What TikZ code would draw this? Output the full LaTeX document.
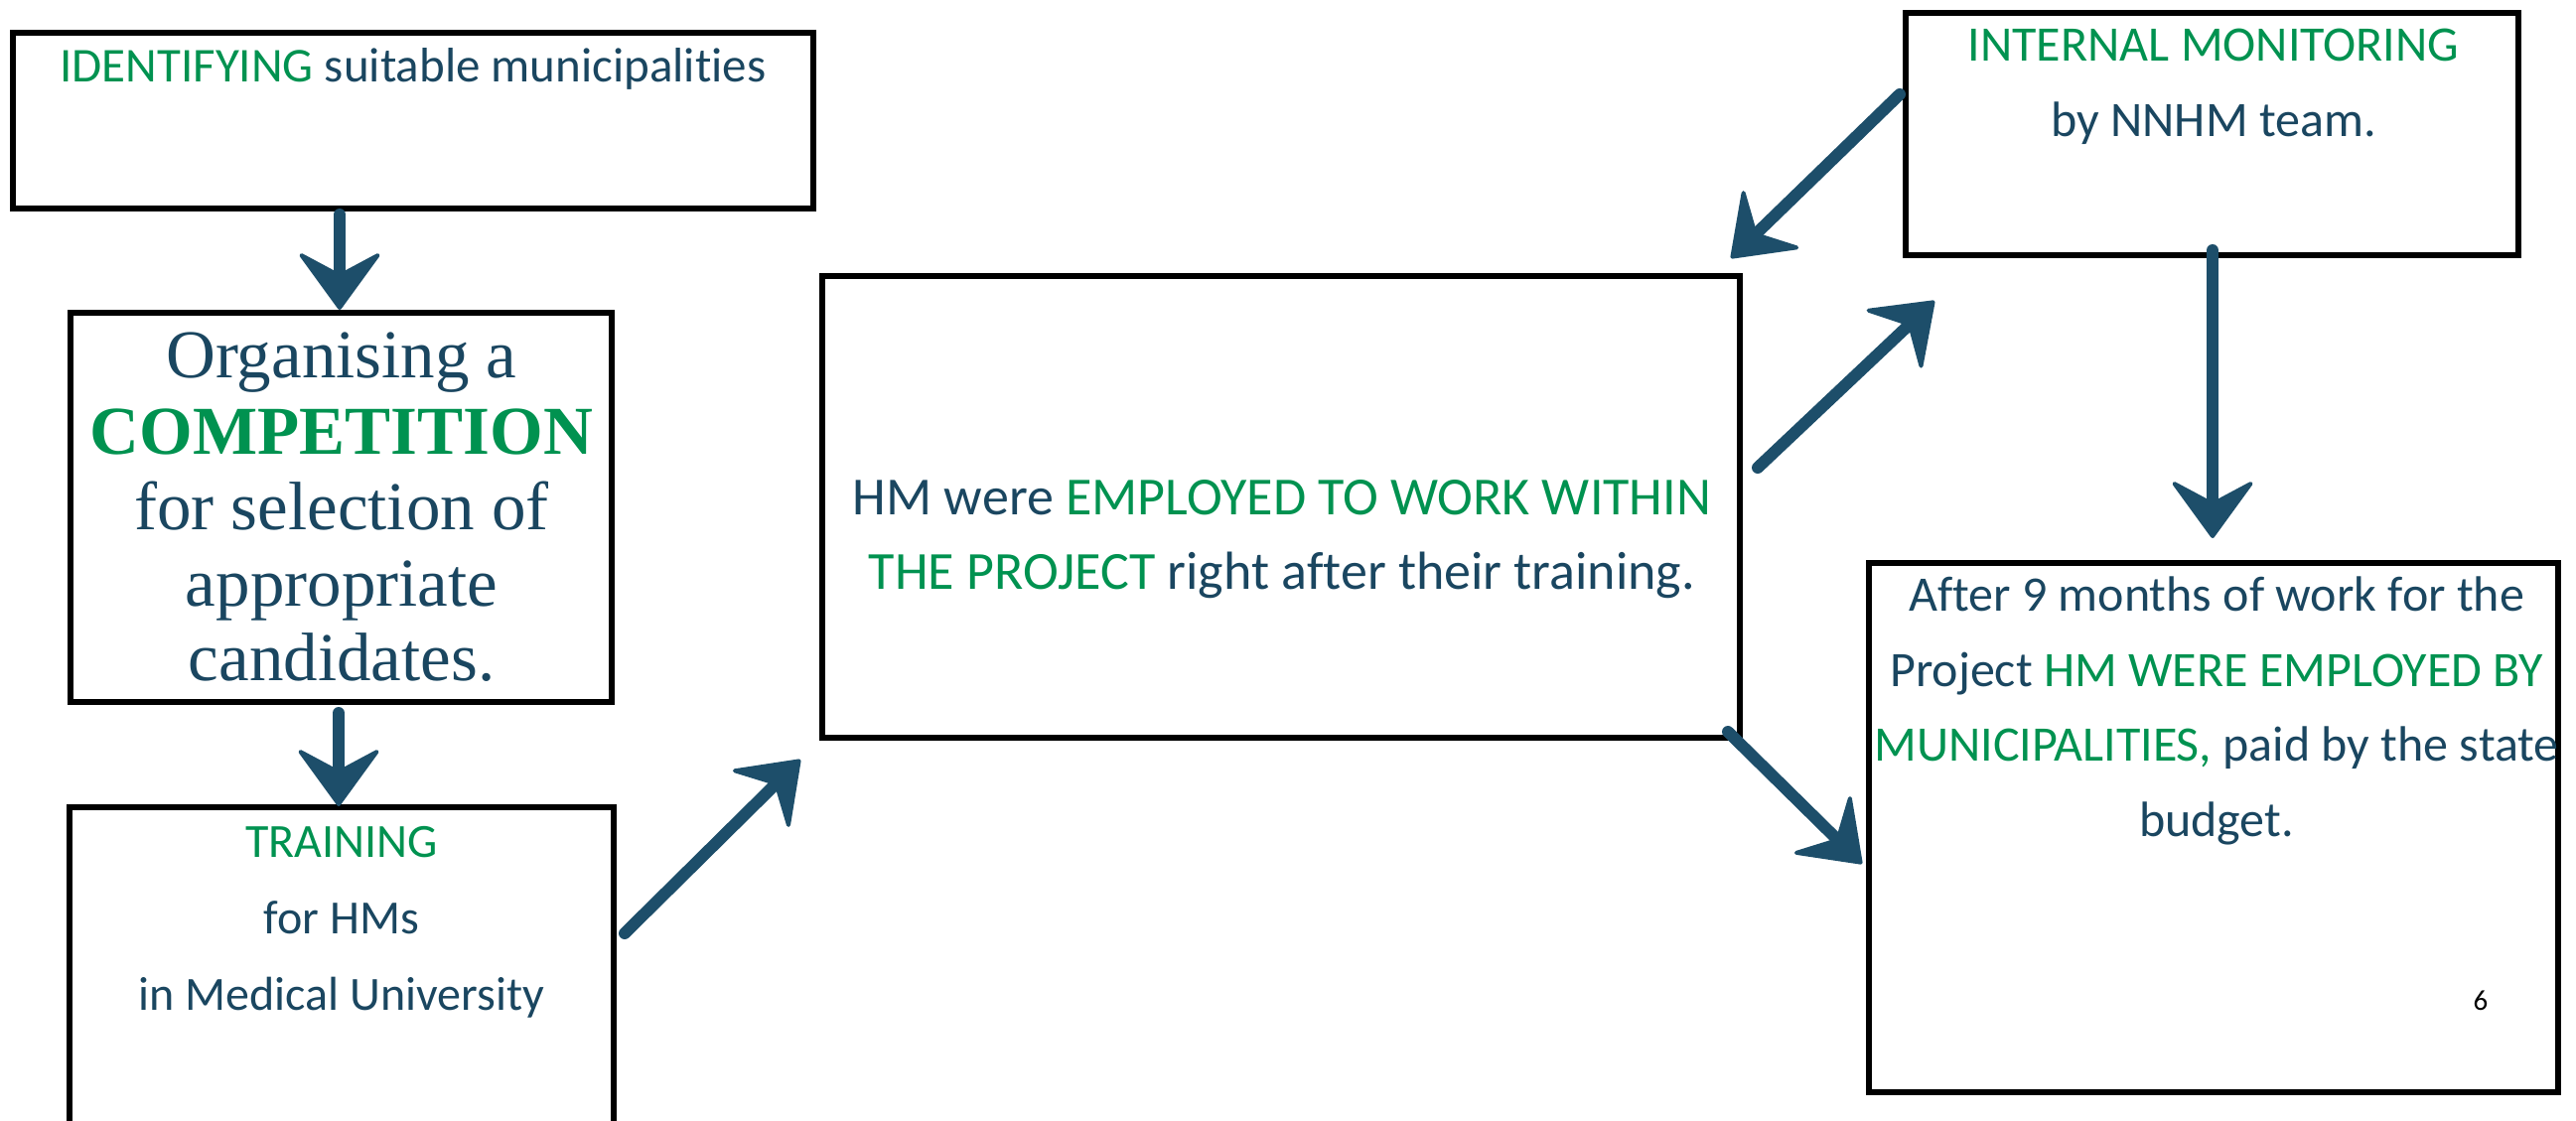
\documentclass[tikz,border=0pt]{standalone}
\usepackage{fontspec}
\setmainfont[Ligatures=NoCommon]{Carlito}
\newfontfamily\serifface{Liberation Serif}
\usetikzlibrary{arrows.meta}
\definecolor{hgreen}{RGB}{0,146,80}
\definecolor{hnavy}{RGB}{26,70,96}
\definecolor{harrow}{RGB}{29,78,106}
\tikzset{
  boxshape/.style={draw=black, line width=6pt, fill=none},
  txt/.style={anchor=base, inner sep=0pt, text=hnavy},
  bigarrow/.style={draw=harrow, line width=12pt, line cap=round,
    -{Stealth[length=62pt, width=90pt, inset=24pt, line width=4pt, round]}},
}
\begin{document}
\begin{tikzpicture}[x=1pt, y=-1pt]
\useasboundingbox (0,0) rectangle (2594,1129);
\clip (0,0) rectangle (2594,1129);
% boxes
\draw[boxshape] (13,33) rectangle (819,210);
\node[inner sep=0pt, minimum width=806pt, minimum height=177pt] (b1) at (416,121.5) {};
\draw[boxshape] (71,315) rectangle (616,707);
\node[inner sep=0pt, minimum width=545pt, minimum height=392pt] (b2) at (343.5,511) {};
\draw[boxshape] (70,813) rectangle (618,1170);
\node[inner sep=0pt, minimum width=548pt, minimum height=357pt] (b3) at (344,991.5) {};
\draw[boxshape] (828,278) rectangle (1752,743);
\node[inner sep=0pt, minimum width=924pt, minimum height=465pt] (b4) at (1290,510.5) {};
\draw[boxshape] (1919,13) rectangle (2536,257);
\node[inner sep=0pt, minimum width=617pt, minimum height=244pt] (b5) at (2227.5,135) {};
\draw[boxshape] (1882,567) rectangle (2576,1100);
\node[inner sep=0pt, minimum width=694pt, minimum height=533pt] (b6) at (2229,833.5) {};
% texts
\node[txt, font=\fontsize{49}{58}\selectfont] (t1) at (416,83) {\textcolor{hgreen}{IDENTIFYING} suitable municipalities};
\begin{scope}[every node/.append style={font=\serifface\fontsize{69}{76}\selectfont}]
\node[txt] (t2a) at (344,380) {Organising a};
\node[txt] (t2b) at (344,457) {\textcolor{hgreen}{\bfseries COMPETITION}};
\node[txt] (t2c) at (344,533) {for selection of};
\node[txt] (t2d) at (344,610) {appropriate};
\node[txt] (t2e) at (344,685) {candidates.};
\end{scope}
\begin{scope}[every node/.append style={font=\fontsize{48}{58}\selectfont}]
\node[txt] (t3a) at (344,863) {\textcolor{hgreen}{TRAINING}};
\node[txt] (t3b) at (344,940) {for HMs};
\node[txt] (t3c) at (344,1017) {in Medical University};
\end{scope}
\begin{scope}[every node/.append style={font=\fontsize{54}{62}\selectfont}]
\node[txt] (t4a) at (1291,518) {HM were \textcolor{hgreen}{EMPLOYED TO WORK WITHIN}};
\node[txt] (t4b) at (1291,593) {\textcolor{hgreen}{THE PROJECT} right after their training.};
\end{scope}
\begin{scope}[every node/.append style={font=\fontsize{50}{60}\selectfont}]
\node[txt] (t5a) at (2229,62) {\textcolor{hgreen}{INTERNAL MONITORING}};
\node[txt] (t5b) at (2229,138) {by NNHM team.};
\node[txt] (t6a) at (2232,615) {After 9 months of work for the};
\node[txt] (t6b) at (2232,691) {Project \textcolor{hgreen}{HM WERE EMPLOYED BY}};
\node[txt] (t6c) at (2232,766) {\textcolor{hgreen}{MUNICIPALITIES,} paid by the state};
\node[txt] (t6d) at (2232,842) {budget.};
\end{scope}
\node[anchor=base, inner sep=0pt, font=\fontsize{29}{34}\selectfont] (pg) at (2498,1017) {6};
% arrow end points
\coordinate (a1s) at (342,216); \coordinate (a1e) at (342,312);
\coordinate (a2s) at (341,718); \coordinate (a2e) at (341,812);
\coordinate (a3s) at (629,940); \coordinate (a3e) at (806,765);
\coordinate (a4s) at (1770,471); \coordinate (a4e) at (1948,303);
\coordinate (a5s) at (1913,95); \coordinate (a5e) at (1743,260);
\coordinate (a6s) at (2228,252); \coordinate (a6e) at (2228,542);
\coordinate (a7s) at (1740,737); \coordinate (a7e) at (1875,870);
\draw[bigarrow] (a1s) -- (a1e);
\draw[bigarrow] (a2s) -- (a2e);
\draw[bigarrow] (a3s) -- (a3e);
\draw[bigarrow] (a4s) -- (a4e);
\draw[bigarrow] (a5s) -- (a5e);
\draw[bigarrow] (a6s) -- (a6e);
\draw[bigarrow] (a7s) -- (a7e);
\end{tikzpicture}
\end{document}
